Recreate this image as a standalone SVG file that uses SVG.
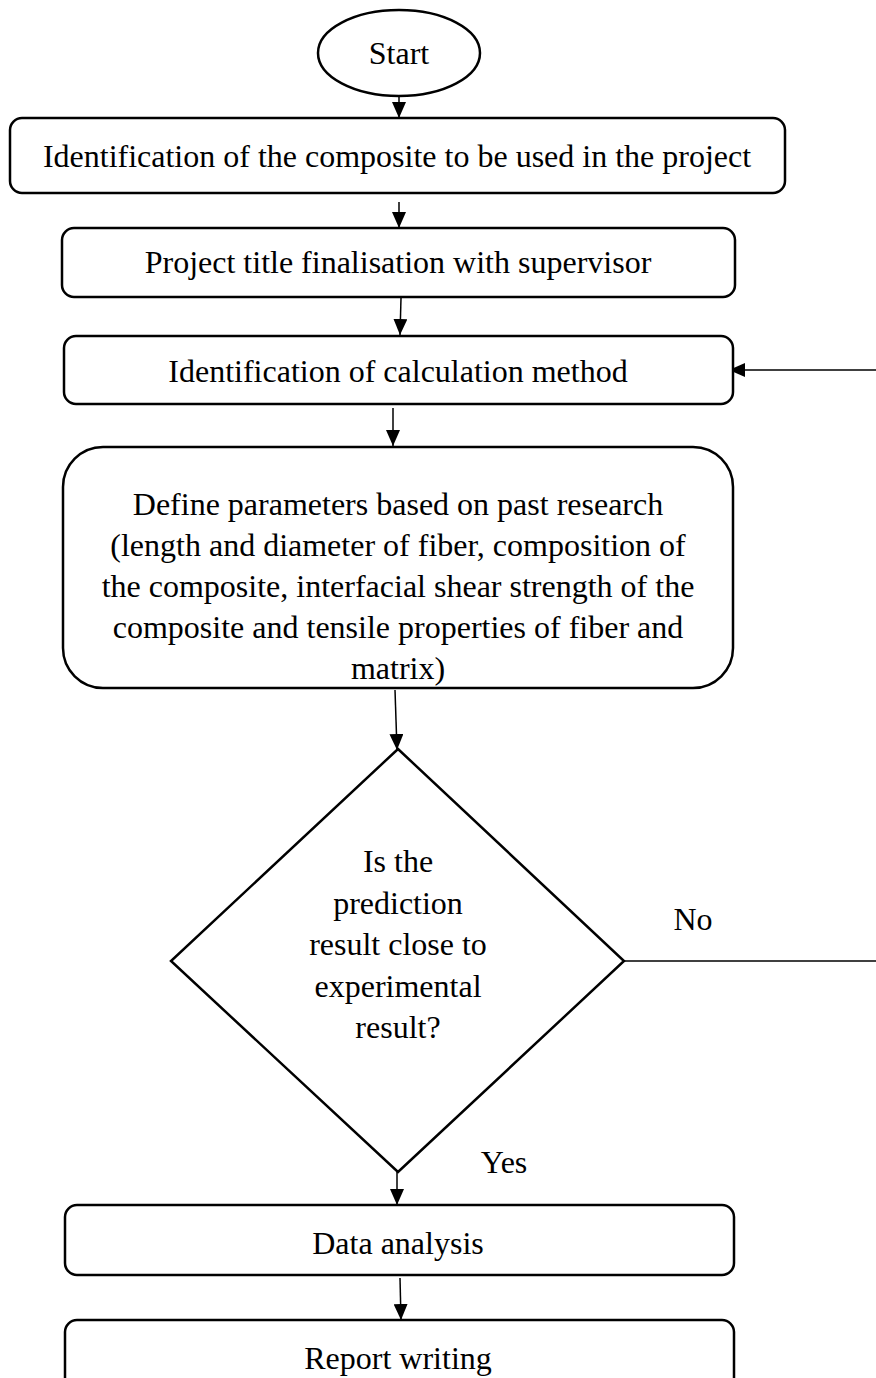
<svg xmlns="http://www.w3.org/2000/svg" width="876" height="1378" viewBox="0 0 876 1378">
<style>
.n{fill:#fff;stroke:#000;stroke-width:2.5}
.t{font-family:"Liberation Serif","Times New Roman",serif;font-size:32px;fill:#000;text-anchor:middle}
.c{stroke:#000;stroke-width:1.5;fill:none}
</style>
<defs>
<marker id="ahb" viewBox="0 0 16 14" refX="16" refY="7" markerWidth="16" markerHeight="14" markerUnits="userSpaceOnUse" orient="auto">
<path d="M0,0 L16,7 L0,14 z" fill="#000"/>
</marker>
</defs>
<rect width="876" height="1378" fill="#fff"/>
<g id="connectors">
<line class="c" x1="399" y1="96" x2="399" y2="118" marker-end="url(#ahb)"/>
<line class="c" x1="399" y1="202" x2="399" y2="228" marker-end="url(#ahb)"/>
<line class="c" x1="401" y1="298" x2="400" y2="335" marker-end="url(#ahb)"/>
<line class="c" x1="876" y1="370" x2="729" y2="370" marker-end="url(#ahb)"/>
<line class="c" x1="393" y1="408" x2="393" y2="446" marker-end="url(#ahb)"/>
<line class="c" x1="395" y1="690" x2="397" y2="750" marker-end="url(#ahb)"/>
<line class="c" x1="624" y1="961" x2="876" y2="961"/>
<line class="c" x1="397" y1="1172" x2="397" y2="1205" marker-end="url(#ahb)"/>
<line class="c" x1="400" y1="1278" x2="401" y2="1320" marker-end="url(#ahb)"/>
<text class="t" x="693" y="930">No</text>
<text class="t" x="504" y="1173">Yes</text>
</g>
<g id="start">
<ellipse class="n" cx="399" cy="53" rx="81" ry="43"/>
<text class="t" x="399" y="64">Start</text>
</g>
<g id="identify-composite">
<rect class="n" x="10" y="118" width="775" height="75" rx="12"/>
<text class="t" x="397" y="167">Identification of the composite to be used in the project</text>
</g>
<g id="title-finalisation">
<rect class="n" x="62" y="228" width="673" height="69" rx="12"/>
<text class="t" x="398" y="273">Project title finalisation with supervisor</text>
</g>
<g id="calc-method">
<rect class="n" x="64" y="336" width="669" height="68" rx="12"/>
<text class="t" x="398" y="382">Identification of calculation method</text>
</g>
<g id="define-params">
<rect class="n" x="63" y="447" width="670" height="241" rx="40"/>
<text class="t" x="398" y="515">Define parameters based on past research</text>
<text class="t" x="398" y="556">(length and diameter of fiber, composition of</text>
<text class="t" x="398" y="597">the composite, interfacial shear strength of the</text>
<text class="t" x="398" y="638">composite and tensile properties of fiber and</text>
<text class="t" x="398" y="679">matrix)</text>
</g>
<g id="decision">
<polygon class="n" points="398,749 624,961 398,1172 171,961"/>
<text class="t" x="398" y="872">Is the</text>
<text class="t" x="398" y="914">prediction</text>
<text class="t" x="398" y="955">result close to</text>
<text class="t" x="398" y="997">experimental</text>
<text class="t" x="398" y="1038">result?</text>
</g>
<g id="data-analysis">
<rect class="n" x="65" y="1205" width="669" height="70" rx="12"/>
<text class="t" x="398" y="1254">Data analysis</text>
</g>
<g id="report-writing">
<rect class="n" x="65" y="1320" width="669" height="70" rx="12"/>
<text class="t" x="398" y="1369">Report writing</text>
</g>
</svg>
